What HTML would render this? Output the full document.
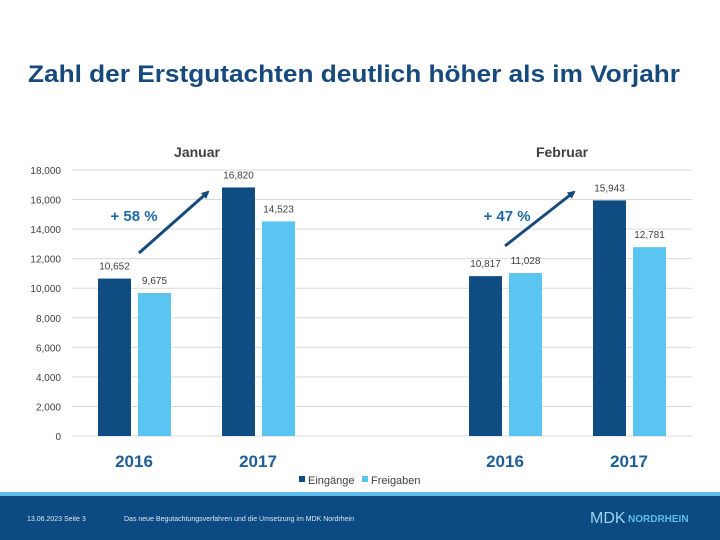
<!DOCTYPE html>
<html><head><meta charset="utf-8"><style>
html,body{margin:0;padding:0;background:#fff;}
svg{display:block;font-family:"Liberation Sans",sans-serif;}
</style></head><body>
<svg width="720" height="540" viewBox="0 0 720 540">
<text x="28" y="82" font-size="24" font-weight="bold" fill="#174a7c" textLength="652" lengthAdjust="spacingAndGlyphs">Zahl der Erstgutachten deutlich höher als im Vorjahr</text>
<text x="197" y="157" font-size="14" font-weight="bold" fill="#404040" text-anchor="middle">Januar</text>
<text x="562" y="157" font-size="14" font-weight="bold" fill="#404040" text-anchor="middle">Februar</text>
<g id="grid"></g>
<g id="yaxis"></g>
<g id="bars"></g>
<g id="xaxis"></g>
<defs><marker id="ah" markerWidth="8" markerHeight="8" refX="6" refY="4" orient="auto" markerUnits="userSpaceOnUse"><path d="M0,0 L8,4 L0,8 z" fill="#174a7c"/></marker></defs>
<line x1="139" y1="253" x2="208" y2="192" stroke="#174a7c" stroke-width="3" marker-end="url(#ah)"/>
<line x1="505" y1="246" x2="574" y2="192" stroke="#174a7c" stroke-width="3" marker-end="url(#ah)"/>
<text x="134" y="221" font-size="15" font-weight="bold" fill="#1f6aa5" text-anchor="middle">+ 58 %</text>
<text x="507" y="221" font-size="15" font-weight="bold" fill="#1f6aa5" text-anchor="middle">+ 47 %</text>
<g>
<rect x="299" y="476" width="6" height="6" fill="#0f4c81"/>
<text x="308" y="484" font-size="11" fill="#404040">Eingänge</text>
<rect x="362" y="476" width="6" height="6" fill="#5bc5f2"/>
<text x="371" y="484" font-size="11" fill="#404040">Freigaben</text>
</g>
<rect x="0" y="492" width="720" height="4" fill="#5bbde8"/>
<rect x="0" y="496" width="720" height="44" fill="#0b4a82"/>
<text x="27" y="521" font-size="7" fill="#dfe8f2">13.06.2023   Seite 3</text>
<text x="124" y="521" font-size="7" fill="#dfe8f2">Das neue Begutachtungsverfahren und die Umsetzung im MDK Nordrhein</text>
<text x="590" y="523" font-size="16" fill="#9fd3f0">MDK</text>
<text x="628" y="522" font-size="10" font-weight="bold" fill="#5bbde8">NORDRHEIN</text>
</svg>
<script>
const categories = ["2016", "2017", "2016", "2017"];
const eingaenge = [10652, 16820, 10817, 15943];
const freigaben = [9675, 14523, 11028, 12781];
const yTicks = [0, 2000, 4000, 6000, 8000, 10000, 12000, 14000, 16000, 18000];
const catCenters = [134, 258, 505, 629];
const NS = "http://www.w3.org/2000/svg";
const y0 = 436, yTop = 170, yMax = 18000;
function yScale(v){ return y0 - (v / yMax) * (y0 - yTop); }
function fmt(v){ return v.toLocaleString("en-US"); }
function mk(tag, attrs, parent, text){
  const e = document.createElementNS(NS, tag);
  for (const k in attrs) e.setAttribute(k, attrs[k]);
  if (text !== undefined) e.textContent = text;
  parent.appendChild(e); return e;
}
const grid = document.getElementById("grid"), yaxis = document.getElementById("yaxis");
const bars = document.getElementById("bars"), xaxis = document.getElementById("xaxis");
yTicks.forEach(t => {
  const l = mk("line", {x1: 72, x2: 692, y1: yScale(t), y2: yScale(t), stroke: "#d9d9d9", "stroke-width": 1}, grid);
  
  
  const tx = mk("text", {x: 61, y: yScale(t) + 4, "font-size": 10, fill: "#404040", "text-anchor": "end"}, yaxis, fmt(t));
  
  
});
categories.forEach((c, i) => {
  const cx = catCenters[i];
  const series = [[eingaenge[i], "#0f4c81", cx - 36, "bar-eingaenge"], [freigaben[i], "#5bc5f2", cx + 4, "bar-freigaben"]];
  series.forEach(s => {
    const r = mk("rect", {x: s[2], y: yScale(s[0]), width: 33, height: y0 - yScale(s[0]), fill: s[1]}, bars);
    
    
    const v = mk("text", {x: s[2] + 16.5, y: yScale(s[0]) - 9, "font-size": 10, fill: "#404040", "text-anchor": "middle"}, bars, fmt(s[0]));
    
    
  });
  const ct = mk("text", {x: cx, y: 467, "font-size": 17, "font-weight": "bold", fill: "#1f5f99", "text-anchor": "middle"}, xaxis, c);
  
  
});
</script>
</body></html>
